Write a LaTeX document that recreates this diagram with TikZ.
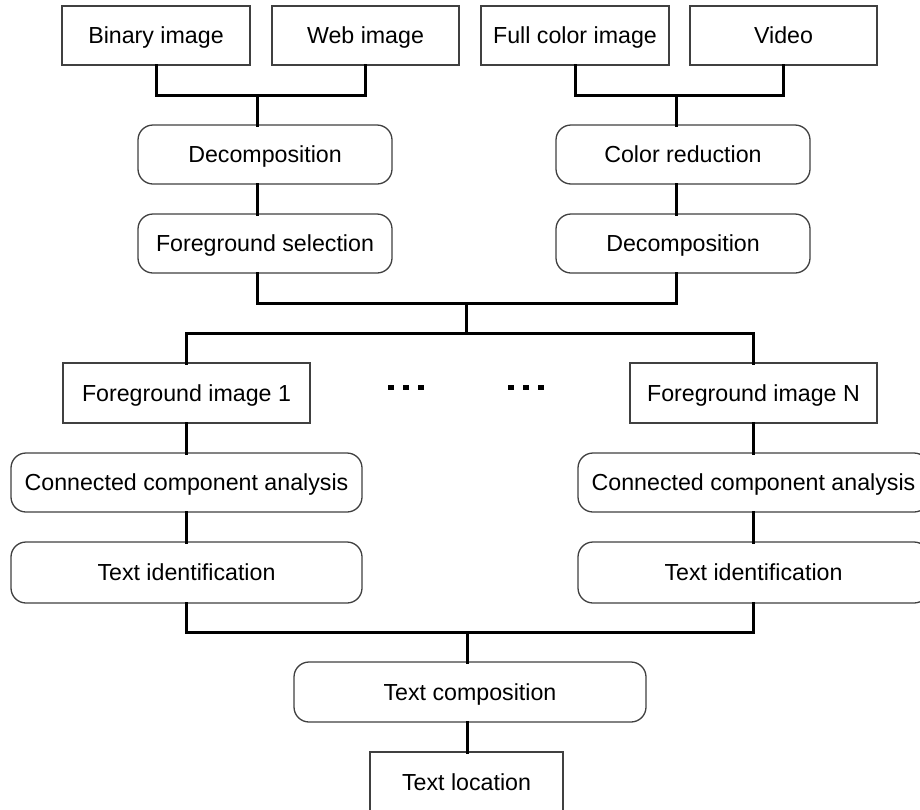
\documentclass[tikz,border=0pt]{standalone}
\usepackage{fontspec}
\setmainfont{Liberation Sans}
\begin{document}
\begin{tikzpicture}[x=1pt,y=-1pt,
  every node/.style={font=\fontsize{23.2}{27}\selectfont, inner sep=0pt, outer sep=0pt,
    text height=16.6pt, text depth=0pt},
  plainbox/.style={draw=black!75, line width=1.3pt, minimum height=59pt, fill=white},
  roundbox/.style={plainbox, rounded corners=15pt},
  wire/.style={line width=3pt, black, line cap=rect},
  dotmark/.style={fill=black, minimum size=5.5pt, text height=, text depth=}]
\useasboundingbox (0,0) rectangle (920,809);
\clip (0,0) rectangle (920,809);

% source images
\node[plainbox, minimum width=188pt] (binary) at (156,35.5) {Binary image};
\node[plainbox, minimum width=187pt] (web)    at (365.5,35.5) {Web image};
\node[plainbox, minimum width=188pt] (full)   at (575,35.5) {Full color image};
\node[plainbox, minimum width=187pt] (video)  at (783.5,35.5) {Video};

% preprocessing branches
\node[roundbox, minimum width=254pt] (decA)  at (265,154.5) {Decomposition};
\node[roundbox, minimum width=254pt] (fgsel) at (265,243.5) {Foreground selection};
\node[roundbox, minimum width=254pt] (cred)  at (683,154.5) {Color reduction};
\node[roundbox, minimum width=254pt] (decB)  at (683,243.5) {Decomposition};

% foreground layers
\node[plainbox, minimum width=247pt, minimum height=60pt] (fg1) at (186.5,393) {Foreground image 1};
\node[plainbox, minimum width=247pt, minimum height=60pt] (fgN) at (753.5,393) {Foreground image N};
\node[roundbox, minimum width=351pt] (cca1) at (186.5,482.5) {Connected component analysis};
\node[roundbox, minimum width=351pt, minimum height=61pt] (tid1) at (186.5,572.5) {Text identification};
\node[roundbox, minimum width=351pt] (ccaN) at (753.5,482.5) {Connected component analysis};
\node[roundbox, minimum width=351pt, minimum height=61pt] (tidN) at (753.5,572.5) {Text identification};

% output stages
\node[roundbox, minimum width=352pt, minimum height=60pt] (tcomp) at (470,692) {Text composition};
\node[plainbox, minimum width=193pt, minimum height=60pt] (tloc) at (466.5,782) {Text location};

% ellipsis between the layers
\foreach \x [count=\i] in {391,406,421} {\node[dotmark] (dl\i) at (\x,387.5) {};}
\foreach \x [count=\i] in {511,526,541} {\node[dotmark] (dr\i) at (\x,387.5) {};}

% bus junctions
\coordinate (busL) at (257,95);
\coordinate (busR) at (676,95);
\coordinate (busM) at (466,303);
\coordinate (busF) at (466,333);
\coordinate (busT) at (467,632);

% connectors
\draw[wire] (binary.south) |- (busL) -| (web.south);
\draw[wire] (busL) -- (busL |- decA.north);
\draw[wire] (busL |- decA.south) -- (busL |- fgsel.north);
\draw[wire] (full.south) |- (busR) -| (video.south);
\draw[wire] (busR) -- (busR |- cred.north);
\draw[wire] (busR |- cred.south) -- (busR |- decB.north);
\draw[wire] (busL |- fgsel.south) |- (busM) -| (busR |- decB.south);
\draw[wire] (busM) -- (busF);
\draw[wire] (fg1.north) |- (busF) -| (fgN.north);
\draw[wire] (fg1) -- (cca1);
\draw[wire] (cca1) -- (tid1);
\draw[wire] (fgN) -- (ccaN);
\draw[wire] (ccaN) -- (tidN);
\draw[wire] (tid1.south) |- (busT) -| (tidN.south);
\draw[wire] (busT) -- (busT |- tcomp.north);
\draw[wire] (busT |- tcomp.south) -- (busT |- tloc.north);
\end{tikzpicture}
\end{document}
